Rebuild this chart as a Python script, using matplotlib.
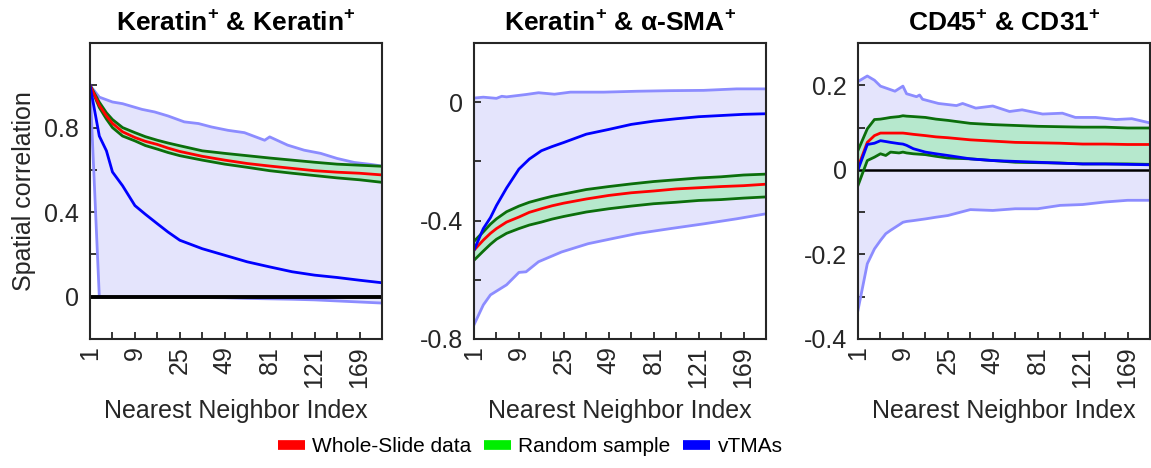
import numpy as np
import matplotlib
matplotlib.use("Agg")
import matplotlib.pyplot as plt
from matplotlib.lines import Line2D

plt.rcParams['font.family'] = ['Liberation Sans', 'DejaVu Sans']
plt.rcParams['axes.unicode_minus'] = False
plt.rcParams['mathtext.fontset'] = 'custom'
plt.rcParams['mathtext.rm'] = 'Liberation Sans'
plt.rcParams['mathtext.bf'] = 'Liberation Sans:bold'

# ---------------- data ----------------
titles = [r'Keratin$^{\mathbf{+}}$ & Keratin$^{\mathbf{+}}$',
          r'Keratin$^{\mathbf{+}}$ & α-SMA$^{\mathbf{+}}$',
          r'CD45$^{\mathbf{+}}$ & CD31$^{\mathbf{+}}$']
legend_labels = ['Whole-Slide data', 'Random sample', 'vTMAs']

# Panel 1: Keratin+ & Keratin+
k_p1 = [1, 2, 3, 4, 6, 9, 12, 16, 20, 25, 36, 49, 64, 81, 100, 121, 144, 169, 196]
k_env_hi_p1 = [1, 2, 4, 6, 11, 15, 20, 27, 34, 41, 51, 62, 77, 81, 96, 111, 127, 144, 163,
               182, 196]
env_hi_p1 = [1.0, 0.944, 0.921, 0.913, 0.886, 0.874, 0.855, 0.827, 0.819, 0.803, 0.787, 0.776,
             0.74, 0.756, 0.717, 0.693, 0.678, 0.654, 0.635, 0.626, 0.618]
env_lo_p1 = [1.0, 0.0, -0.002, -0.002, -0.002, -0.002, -0.002, -0.002, -0.003, -0.003, -0.004,
             -0.005, -0.008, -0.01, -0.012, -0.015, -0.02, -0.025, -0.03]
whole_p1 = [1.0, 0.905, 0.855, 0.82, 0.78, 0.753, 0.735, 0.72, 0.703, 0.687, 0.664, 0.646,
            0.63, 0.618, 0.607, 0.596, 0.589, 0.584, 0.576]
rand_hi_p1 = [1.0, 0.92, 0.87, 0.838, 0.80, 0.776, 0.757, 0.74, 0.727, 0.714, 0.69, 0.678,
              0.667, 0.656, 0.646, 0.636, 0.627, 0.622, 0.617]
rand_lo_p1 = [1.0, 0.895, 0.84, 0.80, 0.76, 0.737, 0.715, 0.698, 0.682, 0.667, 0.646, 0.627,
              0.612, 0.596, 0.584, 0.573, 0.562, 0.553, 0.541]
vtma_p1 = [1.0, 0.76, 0.69, 0.59, 0.525, 0.431, 0.39, 0.345, 0.306, 0.267, 0.227, 0.196,
           0.165, 0.141, 0.118, 0.102, 0.091, 0.078, 0.066]

# Panel 2: Keratin+ & alpha-SMA+
k_p2 = [1, 2, 3, 4, 6, 9, 12, 16, 20, 25, 36, 49, 64, 81, 100, 121, 144, 169, 196]
k_env_hi_p2 = [1, 2, 4, 5, 6, 11, 15, 21, 28, 46, 68, 95, 126, 161, 196]
env_hi_p2 = [0.014, 0.017, 0.013, 0.02, 0.018, 0.026, 0.032, 0.027, 0.034, 0.034, 0.037,
             0.039, 0.04, 0.045, 0.045]
k_env_lo_p2 = [1, 2, 3, 6, 9, 11, 15, 24, 37, 53, 68, 95, 126, 161, 196]
env_lo_p2 = [-0.752, -0.685, -0.651, -0.617, -0.575, -0.573, -0.539, -0.506, -0.478, -0.459,
             -0.444, -0.427, -0.411, -0.394, -0.377]
whole_p2 = [-0.5, -0.466, -0.443, -0.427, -0.405, -0.388, -0.372, -0.36, -0.35, -0.341, -0.327,
            -0.315, -0.306, -0.3, -0.293, -0.289, -0.285, -0.282, -0.277]
rand_hi_p2 = [-0.47, -0.438, -0.412, -0.394, -0.37, -0.351, -0.338, -0.327, -0.318, -0.31,
              -0.295, -0.285, -0.276, -0.268, -0.262, -0.256, -0.252, -0.246, -0.243]
rand_lo_p2 = [-0.534, -0.503, -0.48, -0.463, -0.443, -0.427, -0.415, -0.405, -0.395, -0.386,
              -0.371, -0.36, -0.351, -0.343, -0.338, -0.332, -0.329, -0.324, -0.32]
vtma_p2 = [-0.5, -0.427, -0.39, -0.349, -0.29, -0.226, -0.192, -0.164, -0.15, -0.136, -0.108,
           -0.092, -0.075, -0.064, -0.056, -0.049, -0.045, -0.041, -0.039]

# Panel 3: CD45+ & CD31+
k_p3 = [1, 2, 3, 4, 5, 6, 8, 9, 10, 12, 16, 20, 25, 36, 49, 64, 81, 100, 121, 144, 169, 196]
k_env_hi_p3 = [1, 2, 3, 4, 7, 9, 10, 13, 14, 15, 21, 29, 32, 39, 49, 60, 69, 85, 102, 114,
               134, 156, 174, 196]
env_hi_p3 = [0.209, 0.222, 0.212, 0.198, 0.186, 0.198, 0.18, 0.173, 0.177, 0.167, 0.157,
             0.152, 0.157, 0.146, 0.151, 0.138, 0.142, 0.132, 0.134, 0.124, 0.124, 0.119,
             0.121, 0.111]
env_lo_p3 = [-0.332, -0.222, -0.187, -0.167, -0.151, -0.143, -0.13, -0.124, -0.122, -0.12,
             -0.116, -0.112, -0.108, -0.094, -0.096, -0.092, -0.092, -0.084, -0.082, -0.076,
             -0.072, -0.072]
whole_p3 = [0.006, 0.065, 0.081, 0.087, 0.087, 0.087, 0.087, 0.087, 0.086, 0.084, 0.081, 0.078,
            0.076, 0.071, 0.068, 0.065, 0.064, 0.063, 0.061, 0.061, 0.06, 0.06]
rand_hi_p3 = [0.046, 0.097, 0.119, 0.12, 0.122, 0.124, 0.126, 0.128, 0.127, 0.126, 0.124, 0.12,
              0.117, 0.11, 0.107, 0.105, 0.103, 0.102, 0.101, 0.101, 0.099, 0.099]
rand_lo_p3 = [-0.037, 0.022, 0.03, 0.038, 0.034, 0.042, 0.04, 0.042, 0.04, 0.038, 0.036, 0.032,
              0.028, 0.026, 0.022, 0.018, 0.017, 0.016, 0.014, 0.014, 0.014, 0.013]
vtma_p3 = [0.0, 0.06, 0.063, 0.069, 0.067, 0.065, 0.062, 0.061, 0.058, 0.05, 0.042, 0.038,
           0.034, 0.026, 0.022, 0.02, 0.018, 0.016, 0.014, 0.014, 0.013, 0.012]

x_ticks = [n * n for n in range(1, 15)]
x_ticklabels = ['1', '', '9', '', '25', '', '49', '', '81', '', '121', '', '169', '']

y_lims = [(-0.2, 1.2), (-0.8, 0.2), (-0.4, 0.3)]
y_ticks = [[-0.2, 0.0, 0.2, 0.4, 0.6, 0.8, 1.0, 1.2],
           [-0.8, -0.6, -0.4, -0.2, 0.0, 0.2],
           [-0.4, -0.3, -0.2, -0.1, 0.0, 0.1, 0.2, 0.3]]
y_ticklabels = [['', '0', '', '0.4', '', '0.8', '', ''],
                ['-0.8', '', '-0.4', '', '0', ''],
                ['-0.4', '', '-0.2', '', '0', '', '0.2', '']]
zero_lw = [2.8, None, 1.8]

panels = [
    dict(k=k_p1, keh=k_env_hi_p1, eh=env_hi_p1, kel=k_p1, el=env_lo_p1, wh=whole_p1,
         rh=rand_hi_p1, rl=rand_lo_p1, vt=vtma_p1),
    dict(k=k_p2, keh=k_env_hi_p2, eh=env_hi_p2, kel=k_env_lo_p2, el=env_lo_p2, wh=whole_p2,
         rh=rand_hi_p2, rl=rand_lo_p2, vt=vtma_p2),
    dict(k=k_p3, keh=k_env_hi_p3, eh=env_hi_p3, kel=k_p3, el=env_lo_p3, wh=whole_p3,
         rh=rand_hi_p3, rl=rand_lo_p3, vt=vtma_p3),
]

# ---------------- styles ----------------
C_ENV_FILL = '#e4e4fc'
C_ENV_LINE = '#8c8cff'
C_RAND_FILL = '#b6e8cd'
C_RAND_LINE = '#0b6e0b'
C_WHOLE = '#ff0000'
C_VTMA = '#0000ff'
C_TEXT = '#262626'
FS = 18

def fwd(x):
    return np.sqrt(np.clip(x, 0, None))

def inv(x):
    return np.square(x)

W, H = 1151, 468
fig = plt.figure(figsize=(W / 100, H / 100), dpi=100)
lefts = [90, 474, 858]

for i, p in enumerate(panels):
    ax = fig.add_axes([lefts[i] / W, (H - 339) / H, 292 / W, 296 / H])
    ax.set_xscale('function', functions=(fwd, inv))
    poly_x = list(p['keh']) + list(p['kel'])[::-1]
    poly_y = list(p['eh']) + list(p['el'])[::-1]
    ax.fill(poly_x, poly_y, color=C_ENV_FILL, lw=0, zorder=1)
    ax.plot(p['keh'], p['eh'], color=C_ENV_LINE, lw=2, zorder=2)
    ax.plot(p['kel'], p['el'], color=C_ENV_LINE, lw=2, zorder=2)
    ax.fill_between(p['k'], p['rl'], p['rh'], color=C_RAND_FILL, lw=0, zorder=3)
    if zero_lw[i]:
        ax.axhline(0, color='black', lw=zero_lw[i], zorder=3.5)
    ax.plot(p['k'], p['rh'], color=C_RAND_LINE, lw=2, zorder=4)
    ax.plot(p['k'], p['rl'], color=C_RAND_LINE, lw=2, zorder=4)
    ax.plot(p['k'], p['wh'], color=C_WHOLE, lw=2, zorder=5)
    ax.plot(p['k'], p['vt'], color=C_VTMA, lw=2, zorder=6)

    ax.set_xlim(1, 196)
    ax.set_ylim(*y_lims[i])
    ax.set_xticks(x_ticks)
    ax.set_xticklabels(x_ticklabels, rotation=90)
    ax.set_yticks(y_ticks[i])
    ax.set_yticklabels(y_ticklabels[i])
    ax.tick_params(direction='in', length=5, width=1.3, colors=C_TEXT,
                   labelsize=FS, top=False, right=False)
    ax.tick_params(axis='y', pad=8)
    ax.tick_params(axis='x', pad=5)
    for s in ax.spines.values():
        s.set_linewidth(1.5)
        s.set_color(C_TEXT)
        s.set_zorder(10)
    ax.set_xlabel('Nearest Neighbor Index', fontsize=FS, color=C_TEXT, labelpad=8)
    ax.set_title(titles[i], fontsize=19, fontweight='bold', color='black', pad=9)
    if i == 0:
        ax.set_ylabel('Spatial correlation', fontsize=FS, color=C_TEXT, labelpad=6)

handles = [Line2D([], [], color=C_WHOLE, lw=7, solid_capstyle='butt'),
           Line2D([], [], color='#00ee00', lw=7, solid_capstyle='butt'),
           Line2D([], [], color=C_VTMA, lw=7, solid_capstyle='butt')]
fig.legend(handles, legend_labels, loc='center left', bbox_to_anchor=(278 / W, 1 - 447 / H),
           ncol=3, frameon=False, borderpad=0, borderaxespad=0, handlelength=1.3,
           handletextpad=0.35, columnspacing=0.6,
           prop={'family': ['Liberation Sans'], 'size': 15})

fig.savefig('out.png', dpi=100)
